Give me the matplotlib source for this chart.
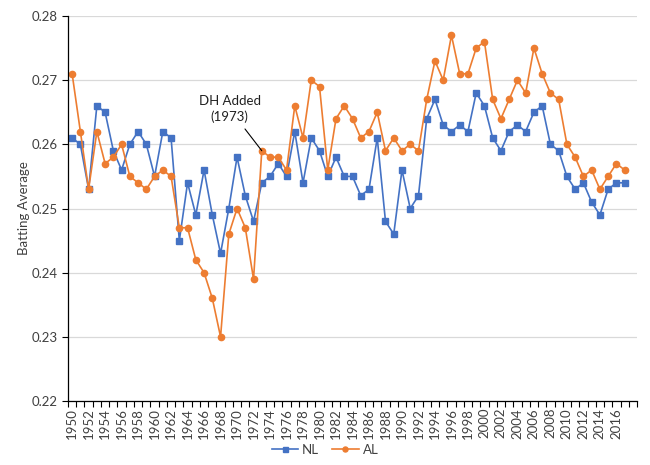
import matplotlib
matplotlib.use("Agg")
import matplotlib.pyplot as plt
from matplotlib.ticker import FixedLocator

plt.rcParams['font.family'] = ['Lato', 'DejaVu Sans']

years = list(range(1950, 2018))
nl = [0.261, 0.260, 0.253, 0.266, 0.265, 0.259, 0.256, 0.260, 0.262, 0.260,
      0.255, 0.262, 0.261, 0.245, 0.254, 0.249, 0.256, 0.249, 0.243, 0.250,
      0.258, 0.252, 0.248, 0.254, 0.255, 0.257, 0.255, 0.262, 0.254, 0.261,
      0.259, 0.255, 0.258, 0.255, 0.255, 0.252, 0.253, 0.261, 0.248, 0.246,
      0.256, 0.250, 0.252, 0.264, 0.267, 0.263, 0.262, 0.263, 0.262, 0.268,
      0.266, 0.261, 0.259, 0.262, 0.263, 0.262, 0.265, 0.266, 0.260, 0.259,
      0.255, 0.253, 0.254, 0.251, 0.249, 0.253, 0.254, 0.254]
al = [0.271, 0.262, 0.253, 0.262, 0.257, 0.258, 0.260, 0.255, 0.254, 0.253,
      0.255, 0.256, 0.255, 0.247, 0.247, 0.242, 0.240, 0.236, 0.230, 0.246,
      0.250, 0.247, 0.239, 0.259, 0.258, 0.258, 0.256, 0.266, 0.261, 0.270,
      0.269, 0.256, 0.264, 0.266, 0.264, 0.261, 0.262, 0.265, 0.259, 0.261,
      0.259, 0.260, 0.259, 0.267, 0.273, 0.270, 0.277, 0.271, 0.271, 0.275,
      0.276, 0.267, 0.264, 0.267, 0.270, 0.268, 0.275, 0.271, 0.268, 0.267,
      0.260, 0.258, 0.255, 0.256, 0.253, 0.255, 0.257, 0.256]
tick_years = list(range(1950, 2017, 2))
yticks = [0.22, 0.23, 0.24, 0.25, 0.26, 0.27, 0.28]

blue = '#4472C4'
orange = '#ED7D31'
fs = 9.5

fig = plt.figure(figsize=(6.5, 4.65), dpi=100)
ax = fig.add_axes([68/650, 1 - 401/465, (637-68)/650, (401-16)/465])

ax.plot(years, nl, color=blue, lw=1.2, marker='s', ms=4.5, label='NL')
ax.plot(years, al, color=orange, lw=1.2, marker='o', ms=4.5, label='AL')

ax.set_xlim(1949.5, 2018.5)
ax.set_ylim(0.22, 0.28)
ax.set_yticks(yticks)
ax.set_yticklabels([f'{v:.2f}' for v in yticks])
ax.set_xticks(tick_years)
ax.set_xticklabels([str(y) for y in tick_years], rotation=90)
ax.xaxis.set_minor_locator(FixedLocator([y + 0.5 for y in range(1949, 2019)]))
ax.tick_params(axis='x', which='major', length=0, pad=5, labelsize=fs, colors='#404040')
ax.tick_params(axis='x', which='minor', length=4, width=0.8, color='black', direction='out')
ax.tick_params(axis='y', length=4, width=0.8, color='black', labelsize=fs, labelcolor='#404040')

ax.grid(axis='y', color='#D9D9D9', lw=0.9)
ax.set_axisbelow(True)
for s in ['top', 'right']:
    ax.spines[s].set_visible(False)
for s in ['left', 'bottom']:
    ax.spines[s].set_color('black')
    ax.spines[s].set_linewidth(0.9)

ax.set_ylabel('Batting Average', fontsize=fs, color='#404040', labelpad=1)

ax.annotate('DH Added\n(1973)', xy=(1973, 0.259), xytext=(1969.1, 0.2655),
            ha='center', va='center', fontsize=fs, color='#202020',
            linespacing=1.3,
            arrowprops=dict(arrowstyle='-', color='black', lw=0.8,
                            shrinkA=3, shrinkB=0))

fig.legend(loc='center', bbox_to_anchor=(325/650, 1 - 450/465), ncol=2,
           frameon=False, fontsize=fs, handlelength=2.0, columnspacing=1.0,
           handletextpad=0.3, markerscale=0.8, labelcolor='#404040')

fig.savefig('out.png', dpi=100)
